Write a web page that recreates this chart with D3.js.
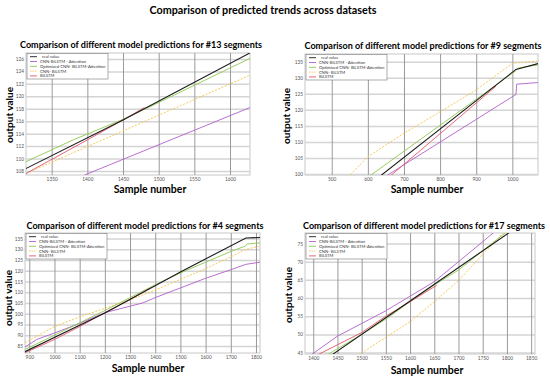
<!DOCTYPE html>
<html>
<head>
<meta charset="utf-8">
<script src="https://cdn.jsdelivr.net/npm/d3@7"></script>
<style>
  body { margin: 0; background: #fff; }
  svg text { font-family: Lato, "Open Sans", sans-serif; }
</style>
</head>
<body>
<svg id="chart" width="550" height="376"></svg>
<script>
// legend labels, same for all four panels
var seriesNames = ["real value", "CNN-BiLSTM - Attention", "Optimized CNN- BiLSTM-Attention", "CNN- BiLSTM", "BiLSTM"];

// #13 segments
var seg13Real   = [[1300, 107.6], [1450, 116.2], [1640, 127.7]];
var seg13Att    = [[1380, 106.6], [1628, 118.2]];
var seg13Opt    = [[1314, 109.5], [1380, 113], [1450, 116.3], [1500, 119], [1628, 126.1]];
var seg13Cnn    = [[1314, 107.6], [1628, 123.4]];
var seg13Bi     = [[1314, 107.6], [1400, 113], [1450, 116.2], [1480, 118.2]];
var seg13XTicks = [1350, 1400, 1450, 1500, 1550, 1600];
var seg13YTicks = [108, 110, 112, 114, 116, 118, 120, 122, 124, 126];

// #9 segments
var seg9Real   = [[630, 99], [1010, 132.6], [1071, 134.4]];
var seg9Att    = [[645, 99], [1010, 124.8], [1012, 128], [1071, 128.5]];
var seg9Opt    = [[600, 99], [1010, 132.2], [1015, 133], [1071, 134]];
var seg9Cnn    = [[545, 99], [600, 105.4], [700, 112.7], [800, 119.4], [900, 126.2], [1000, 134.5], [1071, 135.2]];
var seg9Bi     = [[658, 99], [955, 127.4]];
var seg9XTicks = [500, 600, 700, 800, 900, 1000];
var seg9YTicks = [100, 105, 110, 115, 120, 125, 130, 135];

// #4 segments
var seg4Real   = [[883, 82.3], [1200, 100.3], [1500, 119.4], [1760, 135.3], [1816, 135.5]];
var seg4Att    = [[883, 84.5], [930, 88], [1000, 91], [1100, 95.5], [1200, 100.5], [1300, 103.5], [1350, 105], [1400, 107.5], [1500, 112], [1600, 116.5], [1700, 120.5], [1760, 123], [1816, 124]];
var seg4Opt    = [[883, 83.3], [1200, 101.5], [1400, 113.5], [1500, 119], [1600, 124], [1700, 129], [1758, 131.5], [1765, 132.5], [1816, 133]];
var seg4Cnn    = [[883, 86.5], [1000, 94], [1100, 98.5], [1200, 102.5], [1300, 106.5], [1400, 111], [1500, 116], [1600, 121], [1700, 126.5], [1760, 130], [1816, 131.5]];
var seg4Bi     = [[883, 81.8], [1000, 88], [1100, 94], [1200, 100.5], [1300, 106.5], [1380, 112]];
var seg4XTicks = [900, 1000, 1100, 1200, 1300, 1400, 1500, 1600, 1700, 1800];
var seg4YTicks = [85, 90, 95, 100, 105, 110, 115, 120, 125, 130, 135];

// #17 segments
var seg17Real   = [[1440, 44.5], [1600, 59.2], [1810, 78.5]];
var seg17Att    = [[1395, 44.3], [1450, 49.5], [1550, 56.5], [1600, 60.5], [1650, 64.5], [1700, 70], [1750, 75.5], [1775, 78.3]];
var seg17Opt    = [[1428, 44.3], [1500, 50], [1550, 54.2], [1600, 59], [1650, 63.6], [1700, 67.7], [1750, 73], [1800, 78.3]];
var seg17Cnn    = [[1493, 44.3], [1550, 49.2], [1600, 53.5], [1650, 59], [1700, 64.8], [1750, 72], [1795, 78.3]];
var seg17Bi     = [[1408, 44.3], [1500, 50.5], [1550, 55], [1600, 59], [1655, 63.5]];
var seg17XTicks = [1400, 1450, 1500, 1550, 1600, 1650, 1700, 1750, 1800, 1850];
var seg17YTicks = [45, 50, 55, 60, 65, 70, 75];

var colors = ["#1a1a1a", "#b160cc", "#8fc84f", "#f6c445", "#e2566d"];
var dashes = [null, null, null, "2,1.5", null];

var svg = d3.select("#chart");

svg.append("text")
    .attr("x", 263).attr("y", 14)
    .attr("text-anchor", "middle")
    .attr("font-size", 10.5).attr("font-weight", "bold")
    .attr("textLength", 227).attr("lengthAdjust", "spacingAndGlyphs")
    .text("Comparison of predicted trends across datasets");

var panels = [
  {id: "p13", title: "Comparison of different model predictions for #13 segments", titleX: 141, titleY: 48, titleW: 242,
   box: [26, 53, 250, 175], xDom: [1314, 1628], yDom: [107.36, 126.96],
   xt: seg13XTicks, yt: seg13YTicks, series: [seg13Real, seg13Att, seg13Opt, seg13Cnn, seg13Bi],
   xl: [150, 193], yl: [9, 115]},
  {id: "p9", title: "Comparison of different model predictions for #9 segments", titleX: 423, titleY: 49, titleW: 237,
   box: [305, 54, 538, 175], xDom: [426, 1071], yDom: [99.7, 137.4],
   xt: seg9XTicks, yt: seg9YTicks, series: [seg9Real, seg9Att, seg9Opt, seg9Cnn, seg9Bi],
   xl: [427, 193], yl: [286, 116]},
  {id: "p4", title: "Comparison of different model predictions for #4 segments", titleX: 145, titleY: 229, titleW: 237,
   box: [25, 233, 260, 353], xDom: [883, 1816], yDom: [81.7, 137.6],
   xt: seg4XTicks, yt: seg4YTicks, series: [seg4Real, seg4Att, seg4Opt, seg4Cnn, seg4Bi],
   xl: [148, 372], yl: [8, 298]},
  {id: "p17", title: "Comparison of different model predictions for #17 segments", titleX: 424, titleY: 229, titleW: 242,
   box: [305, 233, 535, 354], xDom: [1383, 1858], yDom: [44.6, 77.9],
   xt: seg17XTicks, yt: seg17YTicks, series: [seg17Real, seg17Att, seg17Opt, seg17Cnn, seg17Bi],
   xl: [427, 374], yl: [288, 295]}
];

var fmt = d3.format("d");

panels.forEach(function(p) {
    var x0 = p.box[0], y0 = p.box[1], x1 = p.box[2], y1 = p.box[3];
    var x = d3.scaleLinear().domain(p.xDom).range([x0, x1]);
    var y = d3.scaleLinear().domain(p.yDom).range([y1, y0]);
    var g = svg.append("g");

    g.append("rect")
        .attr("x", x0).attr("y", y0).attr("width", x1 - x0).attr("height", y1 - y0)
        .attr("fill", "#fff").attr("stroke", "#c8c8c8").attr("stroke-width", 1);

    // horizontal grid
    g.append("g")
        .attr("transform", "translate(" + x0 + ",0)")
        .call(d3.axisLeft(y).tickValues(p.yt).tickSize(-(x1 - x0)).tickFormat(""))
        .call(function(s) {
            s.select(".domain").remove();
            s.selectAll("line").attr("stroke", "#d4d4d4").attr("stroke-width", 1.5);
        });

    // vertical grid
    g.append("g")
        .attr("transform", "translate(0," + y1 + ")")
        .call(d3.axisBottom(x).tickValues(p.xt).tickSize(-(y1 - y0)).tickFormat(""))
        .call(function(s) {
            s.select(".domain").remove();
            s.selectAll("line").attr("stroke", "#9a9a9a").attr("stroke-width", 1);
        });

    // tick labels
    g.append("g")
        .attr("transform", "translate(" + (x0 - 1) + ",0)")
        .call(d3.axisLeft(y).tickValues(p.yt).tickSize(0).tickPadding(1).tickFormat(fmt))
        .call(function(s) {
            s.select(".domain").remove();
            s.selectAll("text").attr("font-size", 4.8).attr("fill", "#555");
        });
    g.append("g")
        .attr("transform", "translate(0," + (y1 + 1) + ")")
        .call(d3.axisBottom(x).tickValues(p.xt).tickSize(0).tickPadding(2).tickFormat(fmt))
        .call(function(s) {
            s.select(".domain").remove();
            s.selectAll("text").attr("font-size", 4.8).attr("fill", "#555");
        });

    g.append("clipPath").attr("id", "clip-" + p.id)
      .append("rect")
        .attr("x", x0).attr("y", y0).attr("width", x1 - x0).attr("height", y1 - y0);

    var line = d3.line()
        .x(function(d) { return x(d[0]); })
        .y(function(d) { return y(d[1]); });

    var lines = g.append("g").attr("clip-path", "url(#clip-" + p.id + ")");
    // draw real value last so it sits on top like the original
    [3, 1, 2, 4, 0].forEach(function(i) {
        lines.append("path")
            .datum(p.series[i])
            .attr("d", line)
            .attr("fill", "none")
            .attr("stroke", colors[i])
            .attr("stroke-width", i == 0 ? 1.1 : 0.9)
            .attr("stroke-dasharray", dashes[i]);
    });

    // legend
    var lg = g.append("g").attr("transform", "translate(" + (x0 + 1) + "," + (y0 + 0.5) + ")");
    lg.append("rect")
        .attr("width", 81).attr("height", 25.5)
        .attr("fill", "#fff").attr("stroke", "#777").attr("stroke-width", 0.6);
    seriesNames.forEach(function(name, i) {
        var yy = 3.2 + i * 4.8;
        lg.append("line")
            .attr("x1", 3).attr("x2", 10).attr("y1", yy).attr("y2", yy)
            .attr("stroke", colors[i]).attr("stroke-width", 0.9)
            .attr("stroke-dasharray", dashes[i] ? "1.5,1" : null);
        lg.append("text")
            .attr("x", i == 0 ? 15 : 13).attr("y", yy + 1.5)
            .attr("font-size", 4.2).attr("fill", "#333")
            .text(name);
    });

    svg.append("text")
        .attr("x", p.titleX).attr("y", p.titleY)
        .attr("text-anchor", "middle")
        .attr("font-size", 8.8).attr("font-weight", "bold")
        .attr("textLength", p.titleW).attr("lengthAdjust", "spacingAndGlyphs")
        .text(p.title);

    svg.append("text")
        .attr("x", p.xl[0]).attr("y", p.xl[1])
        .attr("text-anchor", "middle")
        .attr("font-size", 10.5).attr("font-weight", "bold")
        .text("Sample number");

    svg.append("text")
        .attr("transform", "translate(" + p.yl[0] + "," + p.yl[1] + ") rotate(-90)")
        .attr("text-anchor", "middle").attr("dy", "0.35em")
        .attr("font-size", 10).attr("font-weight", "bold")
        .text("output value");
});
</script>
</body>
</html>
